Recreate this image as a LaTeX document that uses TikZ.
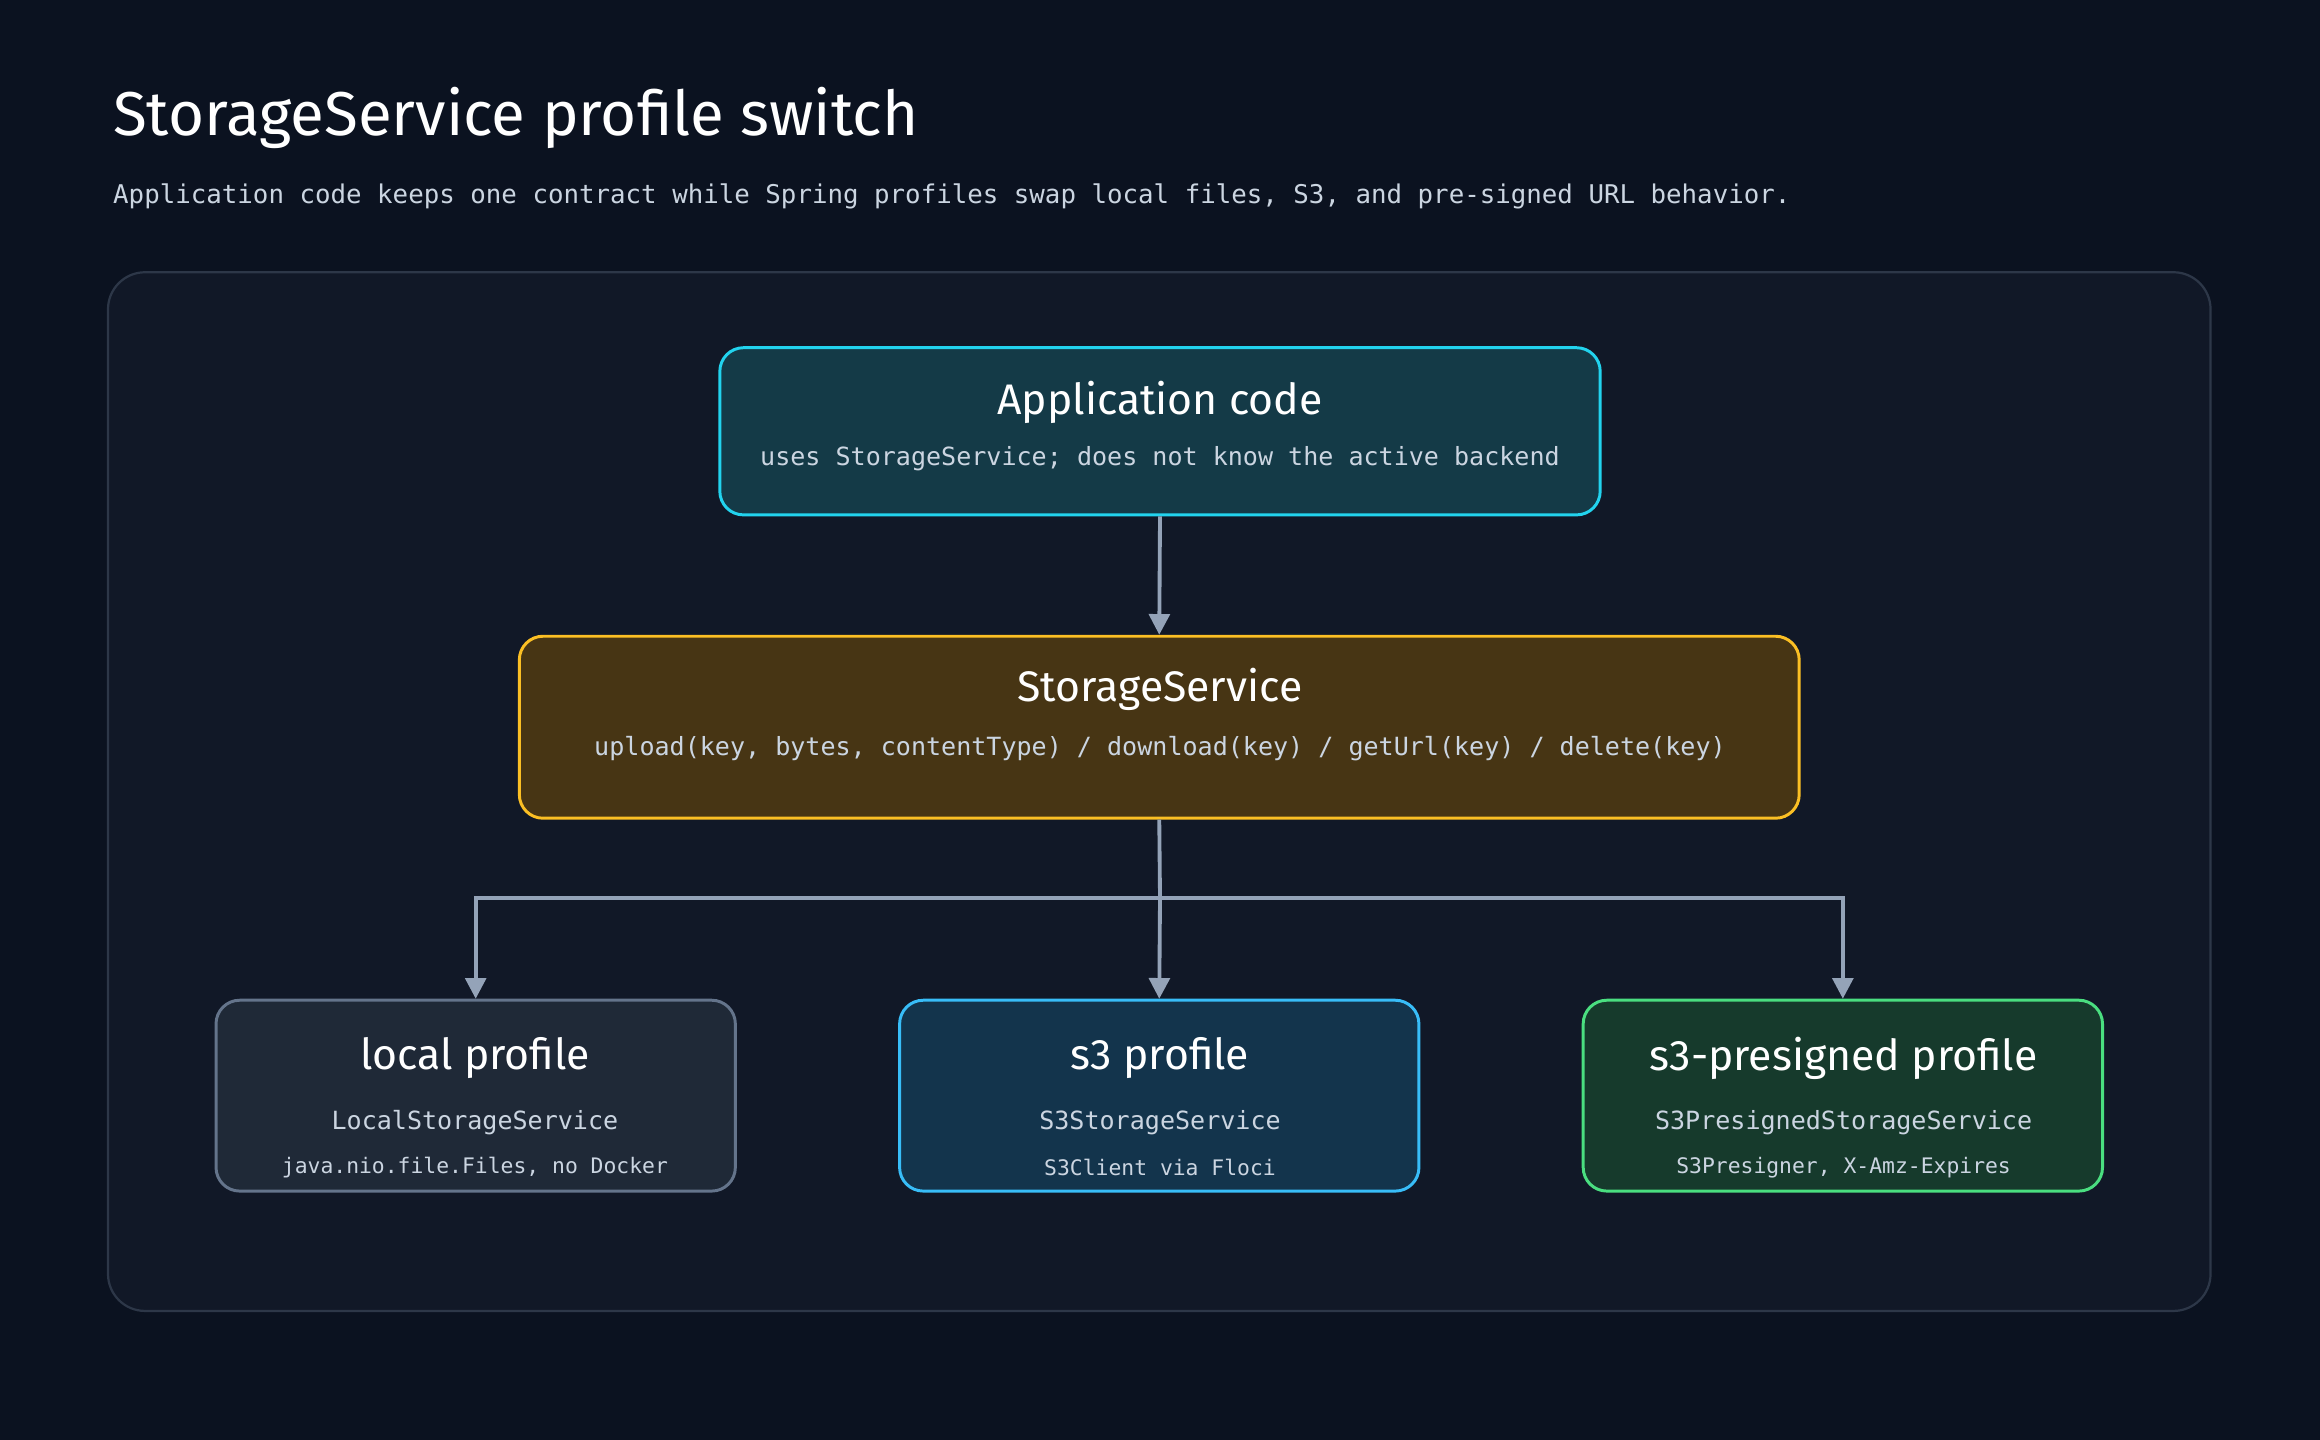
\documentclass[tikz,border=0pt]{standalone}
\usepackage{fontspec}
\setmainfont{Fira Sans}
\setmonofont{DejaVu Sans Mono}
\usetikzlibrary{arrows.meta,positioning}
\definecolor{pagebg}{HTML}{0B1220}
\definecolor{panelbg}{HTML}{111827}
\definecolor{panelline}{HTML}{2D3748}
\definecolor{wire}{HTML}{94A3B8}
\definecolor{subtext}{HTML}{CBD5E1}
\definecolor{appfill}{HTML}{143A47}
\definecolor{appline}{HTML}{22D3EE}
\definecolor{svcfill}{HTML}{473514}
\definecolor{svcline}{HTML}{FBBF24}
\definecolor{locfill}{HTML}{1F2937}
\definecolor{locline}{HTML}{64748B}
\definecolor{sthfill}{HTML}{13344C}
\definecolor{sthline}{HTML}{38BDF8}
\definecolor{prefill}{HTML}{163A2C}
\definecolor{preline}{HTML}{4ADE80}
\tikzset{
  box/.style={draw,rounded corners=16bp,line width=2bp,inner sep=0pt},
  head/.style={text=white,font=\fontsize{29}{32}\selectfont},
  line1/.style={text=subtext,font=\ttfamily\fontsize{17}{20}\selectfont},
  line2/.style={text=subtext,font=\ttfamily\fontsize{14.5}{17}\selectfont},
  link/.style={draw=wire,line width=2.6bp,-{Triangle[length=14bp,width=14bp]}},
}
\begin{document}
\begin{tikzpicture}[x=1bp,y=-1bp]
%%
\fill[pagebg] (0,0) rectangle (1568,973);
\useasboundingbox (0,0) rectangle (1568,973);
\node (title) at (73,80) [anchor=west,text=white,font=\fontsize{42}{46}\selectfont] {StorageService profile switch};
\node (subtitle) at (73,133) [anchor=west,text=subtext,font=\ttfamily\fontsize{17.5}{20}\selectfont] {Application code keeps one contract while Spring profiles swap local files, S3, and pre-signed URL behavior.};
\draw[panelline,fill=panelbg,line width=1.5bp,rounded corners=25bp] (73,184) rectangle (1494,886);
%
\node (app) at (784,291.5) [box,draw=appline,fill=appfill,minimum width=595bp,minimum height=113bp] {};
\node (apphead) at (784,272) [head] {Application code};
\node (appsub) at (784,310) [line1] {uses StorageService; does not know the active backend};
\node (store) at (783.5,491.5) [box,draw=svcline,fill=svcfill,minimum width=865bp,minimum height=123bp] {};
\node (storehead) at (784,466) [head] {StorageService};
\node (storesub) at (784,506) [line1] {upload(key, bytes, contentType) / download(key) / getUrl(key) / delete(key)};
%
\node (local) at (321.5,740.5) [box,draw=locline,fill=locfill,minimum width=351bp,minimum height=129bp] {};
\node (localhead) at (321,715) [head] {local profile};
\node (localsub) at (321,759) [line1] {LocalStorageService};
\node (localnote) at (321,789) [line2] {java.nio.file.Files, no Docker};
\node (sthree) at (783.5,740.5) [box,draw=sthline,fill=sthfill,minimum width=351bp,minimum height=129bp] {};
\node (sthreehead) at (784,715) [head] {s3 profile};
\node (sthreesub) at (784,759) [line1] {S3StorageService};
\node (sthreenote) at (784,789) [line2] {S3Client via Floci};
\node (presign) at (1245.5,740.5) [box,draw=preline,fill=prefill,minimum width=351bp,minimum height=129bp] {};
\node (presignhead) at (1246,715) [head] {s3-presigned profile};
\node (presignsub) at (1246,759) [line1] {S3PresignedStorageService};
\node (presignnote) at (1246,789) [line2] {S3Presigner, X-Amz-Expires};
%
\coordinate (bus) at (784,607);
\draw [link] (app.south) -- (store.north);
\draw [draw=wire,line width=2.6bp] (store.south) -- (bus);
\draw [link] (bus) -| (local.north);
\draw [link] (bus) -- (sthree.north);
\draw [link] (bus) -| (presign.north);
%
\end{tikzpicture}
\end{document}
